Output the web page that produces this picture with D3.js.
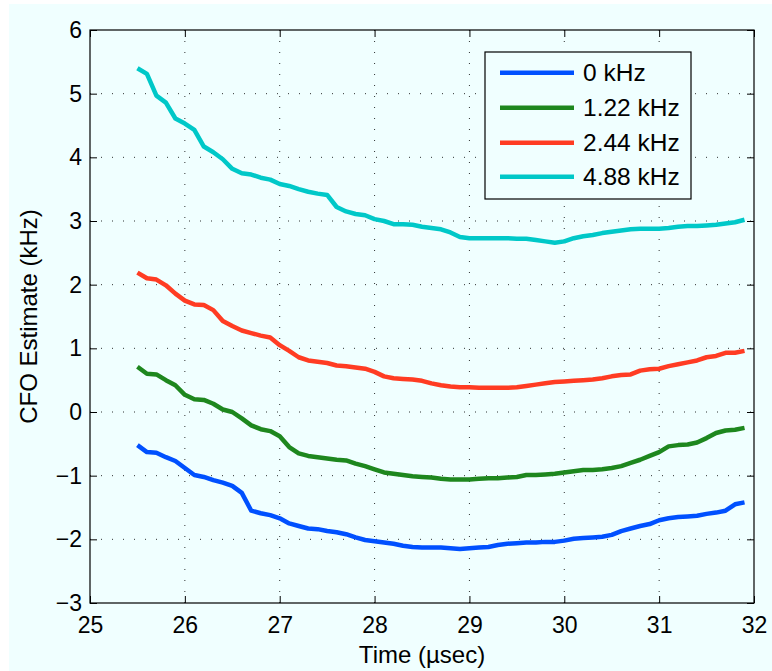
<!DOCTYPE html>
<html>
<head>
<meta charset="utf-8">
<script src="https://cdn.jsdelivr.net/npm/d3@7/dist/d3.min.js"></script>
<style>
  html, body { margin: 0; padding: 0; background: #ffffff; }
  svg { display: block; }
  text { font-family: "Liberation Sans", Arial, Helvetica, sans-serif; fill: #000; }
</style>
</head>
<body>
<svg id="chart" width="772" height="671"></svg>
<script>
// Sample times (µsec)
const times = [
  25.5, 25.6, 25.7, 25.8, 25.9, 26.0, 26.1, 26.2, 26.3, 26.4,
  26.5, 26.6, 26.7, 26.8, 26.9, 27.0, 27.1, 27.2, 27.3, 27.4,
  27.5, 27.6, 27.7, 27.8, 27.9, 28.0, 28.1, 28.2, 28.3, 28.4,
  28.5, 28.6, 28.7, 28.8, 28.9, 29.0, 29.1, 29.2, 29.3, 29.4,
  29.5, 29.6, 29.7, 29.8, 29.9, 30.0, 30.1, 30.2, 30.3, 30.4,
  30.5, 30.6, 30.7, 30.8, 30.9, 31.0, 31.1, 31.2, 31.3, 31.4,
  31.5, 31.6, 31.7, 31.8, 31.9
];

// CFO estimates (kHz) for each true offset
const cfo0 = [
  -0.52, -0.63, -0.64, -0.71, -0.77, -0.88, -0.99, -1.02, -1.07, -1.11,
  -1.16, -1.27, -1.55, -1.59, -1.62, -1.67, -1.75, -1.79, -1.83, -1.84,
  -1.87, -1.89, -1.92, -1.97, -2.01, -2.03, -2.05, -2.07, -2.10, -2.12,
  -2.13, -2.13, -2.13, -2.14, -2.15, -2.14, -2.13, -2.12, -2.09, -2.07,
  -2.06, -2.05, -2.05, -2.04, -2.04, -2.02, -1.99, -1.98, -1.97, -1.96,
  -1.93, -1.87, -1.83, -1.79, -1.76, -1.70, -1.67, -1.65, -1.64, -1.63,
  -1.60, -1.58, -1.55, -1.45, -1.42
];
const cfo122 = [
  0.71, 0.60, 0.59, 0.50, 0.42, 0.27, 0.20, 0.19, 0.13, 0.04,
  0.00, -0.10, -0.21, -0.27, -0.30, -0.38, -0.55, -0.65, -0.69, -0.71,
  -0.73, -0.75, -0.76, -0.81, -0.85, -0.90, -0.95, -0.97, -0.99, -1.01,
  -1.02, -1.03, -1.05, -1.06, -1.06, -1.06, -1.05, -1.04, -1.04, -1.03,
  -1.02, -0.99, -0.99, -0.98, -0.97, -0.95, -0.93, -0.91, -0.91, -0.90,
  -0.88, -0.85, -0.80, -0.75, -0.69, -0.63, -0.54, -0.52, -0.51, -0.48,
  -0.41, -0.33, -0.29, -0.28, -0.25
];
const cfo244 = [
  2.19, 2.10, 2.08, 1.99, 1.86, 1.75, 1.69, 1.68, 1.60, 1.43,
  1.35, 1.28, 1.24, 1.20, 1.17, 1.05, 0.96, 0.86, 0.81, 0.79,
  0.77, 0.73, 0.72, 0.70, 0.68, 0.63, 0.56, 0.53, 0.52, 0.51,
  0.49, 0.45, 0.42, 0.40, 0.39, 0.39, 0.38, 0.38, 0.38, 0.38,
  0.39, 0.41, 0.43, 0.45, 0.47, 0.48, 0.49, 0.50, 0.51, 0.53,
  0.56, 0.58, 0.59, 0.65, 0.67, 0.68, 0.72, 0.75, 0.78, 0.81,
  0.86, 0.88, 0.93, 0.93, 0.96
];
const cfo488 = [
  5.40, 5.31, 4.97, 4.86, 4.61, 4.53, 4.43, 4.17, 4.08, 3.97,
  3.82, 3.75, 3.73, 3.68, 3.65, 3.58, 3.55, 3.50, 3.46, 3.43,
  3.41, 3.22, 3.15, 3.11, 3.09, 3.03, 3.00, 2.95, 2.95, 2.94,
  2.91, 2.89, 2.87, 2.82, 2.75, 2.73, 2.73, 2.73, 2.73, 2.73,
  2.72, 2.72, 2.70, 2.68, 2.66, 2.68, 2.73, 2.76, 2.78, 2.81,
  2.83, 2.85, 2.87, 2.88, 2.88, 2.88, 2.89, 2.91, 2.92, 2.92,
  2.93, 2.94, 2.96, 2.98, 3.02
];

const seriesNames = ["0 kHz", "1.22 kHz", "2.44 kHz", "4.88 kHz"];
const seriesColors = ["#0050ff", "#1e871e", "#ff3c23", "#00c8c8"];
const seriesValues = [cfo0, cfo122, cfo244, cfo488];

const xTicks = [25, 26, 27, 28, 29, 30, 31, 32];
const yTicks = [-3, -2, -1, 0, 1, 2, 3, 4, 5, 6];

const svg = d3.select("#chart");
const W = 772, H = 671;
const plotL = 90, plotR = 754, plotT = 30, plotB = 603;
const bg = "#f0ffff";

// figure background (with the thin white margin at left/top)
svg.append("rect").attr("x", 9).attr("y", 4).attr("width", W - 9).attr("height", H - 4).attr("fill", bg);

const x = d3.scaleLinear().domain([25, 32]).range([plotL, plotR]);
const y = d3.scaleLinear().domain([-3, 6]).range([plotB, plotT]);

// dotted grid
const grid = svg.append("g").attr("stroke", "#000").attr("stroke-width", 1)
  .attr("stroke-dasharray", "1,10").attr("opacity", 0.8);
grid.selectAll("line.gx").data(xTicks.slice(1, -1)).join("line")
  .attr("x1", d => x(d)).attr("x2", d => x(d))
  .attr("y1", plotB).attr("y2", plotT);
grid.selectAll("line.gy").data(yTicks.slice(1, -1)).join("line")
  .attr("y1", d => y(d)).attr("y2", d => y(d))
  .attr("x1", plotL).attr("x2", plotR);

// series lines
const line = d3.line().x((d, i) => x(times[i])).y(d => y(d));
svg.append("g").selectAll("path").data(seriesValues).join("path")
  .attr("d", d => line(d))
  .attr("fill", "none")
  .attr("stroke", (d, i) => seriesColors[i])
  .attr("stroke-width", 4.5)
  .attr("stroke-linejoin", "round")
  .attr("stroke-linecap", "butt");

// axes with inward ticks
const fmt = d3.format("");
const tickLen = 7;
const xAxis = svg.append("g").attr("transform", `translate(0,${plotB})`)
  .call(d3.axisBottom(x).tickValues(xTicks).tickFormat(fmt).tickSize(-tickLen).tickPadding(14));
const xAxisTop = svg.append("g").attr("transform", `translate(0,${plotT})`)
  .call(d3.axisTop(x).tickValues(xTicks).tickFormat("").tickSize(-tickLen));
const yAxis = svg.append("g").attr("transform", `translate(${plotL},0)`)
  .call(d3.axisLeft(y).tickValues(yTicks).tickFormat(fmt).tickSize(-tickLen).tickPadding(8));
const yAxisRight = svg.append("g").attr("transform", `translate(${plotR},0)`)
  .call(d3.axisRight(y).tickValues(yTicks).tickFormat("").tickSize(-tickLen));

[xAxis, xAxisTop, yAxis, yAxisRight].forEach(g => {
  g.select(".domain").remove();
  g.selectAll(".tick line").attr("stroke", "#000").attr("stroke-width", 1);
  g.selectAll("text").attr("font-family", "'Liberation Sans', Arial, sans-serif")
    .attr("font-size", 23).attr("fill", "#000");
});
xAxis.selectAll(".tick text").attr("dy", "0.71em");

// axes box
svg.append("rect").attr("x", plotL).attr("y", plotT)
  .attr("width", plotR - plotL).attr("height", plotB - plotT)
  .attr("fill", "none").attr("stroke", "#000").attr("stroke-width", 1.2);

// axis titles
svg.append("text").attr("x", (plotL + plotR) / 2).attr("y", 663)
  .attr("text-anchor", "middle").attr("font-size", 24).text("Time (\u00b5sec)");
svg.append("text")
  .attr("transform", `translate(37,${(plotT + plotB) / 2}) rotate(-90)`)
  .attr("text-anchor", "middle").attr("font-size", 24).text("CFO Estimate (kHz)");

// legend
const lg = svg.append("g");
lg.append("rect").attr("x", 485).attr("y", 52).attr("width", 206).attr("height", 147)
  .attr("fill", bg).attr("stroke", "#000").attr("stroke-width", 1.2);
const rowY = [72.7, 107.7, 142.7, 176.7];
const rows = lg.selectAll("g.row").data(seriesNames).join("g").attr("class", "row");
rows.append("line")
  .attr("x1", 500).attr("x2", 574)
  .attr("y1", (d, i) => rowY[i]).attr("y2", (d, i) => rowY[i])
  .attr("stroke", (d, i) => seriesColors[i]).attr("stroke-width", 4.5);
rows.append("text")
  .attr("x", 583).attr("y", (d, i) => rowY[i] + 8.5)
  .attr("font-size", 24.5).text(d => d);
</script>
</body>
</html>
